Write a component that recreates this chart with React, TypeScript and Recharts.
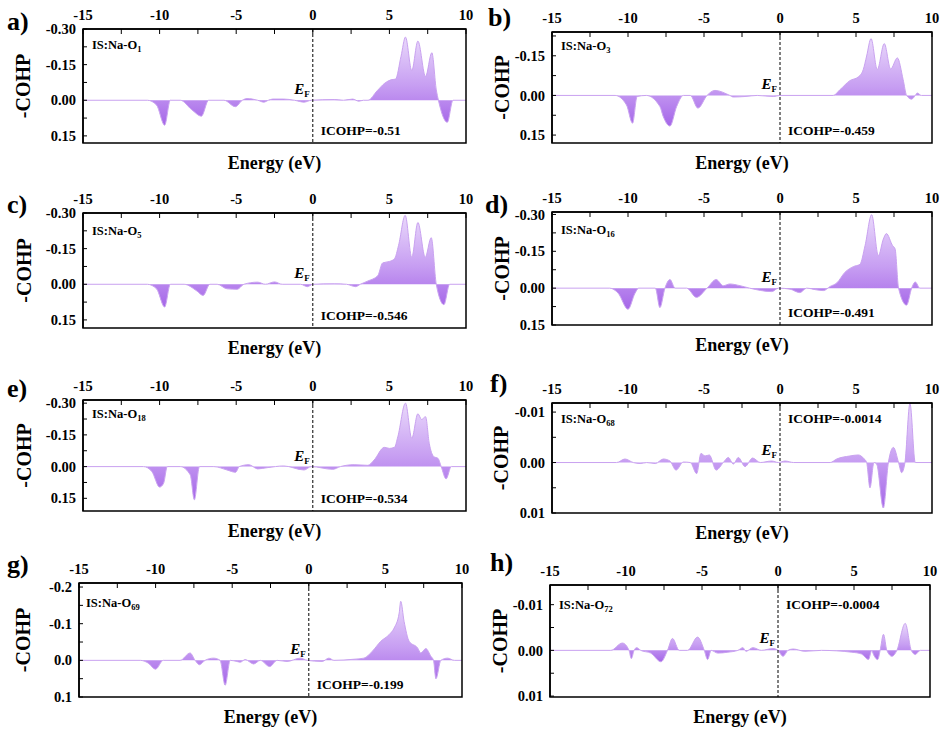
import { Area, AreaChart, ReferenceArea, ReferenceDot, ReferenceLine, XAxis, YAxis } from "recharts";

const SERIF = '"Liberation Serif", "Times New Roman", serif';

// energy grid ticks (top axis), labels only on multiples of 5
const energyTicks = [-15, -12.5, -10, -7.5, -5, -2.5, 0, 2.5, 5, 7.5, 10];

// a) IS:Na-O1
const energyA = [-15, -10.8, -10.2, -9.67, -9.3, -8.65, -7.9, -7.27, -6.8, -5.8, -5.05, -4.6, -4.3, -3.6, -3.2, -2.9, -2.6, -1.9, -1.2, -0.57, -0.1, 1.4, 2.0, 2.6, 3.0, 3.3, 3.6, 4.2, 4.7, 5.1, 5.4, 5.76, 6.05, 6.46, 6.86, 7.36, 7.77, 8.06, 8.2, 8.78, 9.15, 10];
const cohpA = [0, 0, 0.02, 0.105, 0, 0, 0.04, 0.067, 0, 0, 0.027, 0, -0.007, 0, 0.008, 0, -0.005, -0.005, 0, 0.008, 0, -0.003, 0, -0.005, 0.004, 0, 0, -0.04, -0.072, -0.086, -0.089, -0.185, -0.266, -0.125, -0.249, -0.1, -0.2, -0.044, 0, 0.093, 0, 0];

// b) IS:Na-O3
const energyB = [-15, -10.85, -10.1, -9.7, -9.4, -8.8, -7.9, -7.68, -7.24, -6.8, -6.36, -5.9, -5.4, -4.8, -4.28, -3.3, -3.07, -2.3, -1.5, -0.44, 0, 3.5, 3.95, 4.6, 5.15, 5.48, 5.7, 5.99, 6.4, 6.86, 7.28, 7.72, 8.1, 8.33, 8.66, 8.9, 9.03, 9.3, 10];
const cohpB = [0, 0, 0.036, 0.105, 0.004, 0, 0.042, 0.08, 0.116, 0.042, 0, 0, 0.048, 0, -0.019, 0, 0.006, 0.004, 0, 0.004, 0, 0, -0.022, -0.056, -0.07, -0.098, -0.149, -0.215, -0.098, -0.196, -0.1, -0.142, -0.06, 0, 0.014, 0, -0.009, 0, 0];

// c) IS:Na-O5
const energyC = [-15, -10.8, -10.2, -9.67, -9.3, -8.4, -7.55, -7.16, -6.72, -6.24, -5.6, -4.93, -4.5, -3.6, -3.1, -2.5, -2.0, -0.8, -0.35, 0, 1.4, 2.2, 2.8, 3.1, 3.6, 4.24, 4.56, 5.0, 5.33, 5.6, 6.03, 6.46, 6.86, 7.34, 7.73, 8.06, 8.56, 8.93, 10];
const cohpC = [0, 0, 0.019, 0.096, 0, 0, 0.029, 0.047, 0, 0, 0.019, 0.021, 0, -0.009, 0, -0.01, 0, 0, 0.01, 0, -0.002, 0, 0.01, 0, -0.014, -0.036, -0.09, -0.096, -0.107, -0.164, -0.29, -0.114, -0.26, -0.114, -0.196, 0, 0.086, 0, 0];

// d) IS:Na-O16
const energyD = [-15, -11.2, -10.64, -10.0, -9.54, -9.3, -8.2, -7.9, -7.57, -7.24, -6.9, -6.14, -5.5, -4.8, -4.2, -3.73, -3.3, -2.63, -2.0, -0.55, -0.1, 0.66, 1.3, 1.75, 2.4, 2.85, 3.3, 3.73, 4.28, 4.82, 5.26, 5.6, 6.03, 6.47, 6.8, 7.0, 7.4, 7.57, 7.8, 8.33, 8.66, 8.9, 9.2, 10];
const cohpD = [0, 0, 0.021, 0.086, 0.021, 0, 0, 0.079, 0, -0.035, 0, 0, 0.0375, 0, -0.035, -0.01, -0.017, -0.01, 0, 0.014, 0, 0.004, 0.018, 0, 0.007, 0.01, -0.007, -0.021, -0.065, -0.0875, -0.097, -0.174, -0.299, -0.132, -0.2, -0.222, -0.174, -0.16, 0, 0.069, 0, -0.025, 0, 0];

// e) IS:Na-O18
const energyE = [-15, -11.05, -10.5, -10.0, -9.74, -9.5, -8.65, -8.0, -7.73, -7.4, -6.46, -5.6, -5.04, -4.8, -4.17, -3.6, -2.97, -1.9, -0.57, -0.1, 1.3, 1.8, 2.7, 3.6, 4.0, 4.67, 5.0, 5.33, 5.55, 6.05, 6.46, 6.86, 7.1, 7.36, 7.6, 7.9, 8.17, 8.38, 8.7, 9.04, 10];
const cohpE = [0, 0, 0.024, 0.097, 0.079, 0, 0, 0.039, 0.157, 0, 0, 0.016, 0.027, 0, -0.009, 0.011, 0.005, -0.003, 0.016, 0, 0.013, 0, -0.009, -0.006, -0.031, -0.091, -0.086, -0.091, -0.141, -0.3, -0.134, -0.25, -0.223, -0.236, -0.11, -0.047, -0.039, 0, 0.058, 0, 0];

// f) IS:Na-O68
const energyF = [-15, -10.75, -10.2, -9.65, -9.2, -8.77, -8.2, -7.68, -7.24, -6.84, -6.36, -5.9, -5.48, -5.2, -4.93, -4.65, -4.2, -3.73, -3.4, -3.07, -2.74, -2.3, -1.8, -1.3, -0.55, -0.1, 0.33, 0.9, 3.3, 3.73, 4.6, 5.15, 5.48, 5.7, 5.92, 6.18, 6.36, 6.8, 7.13, 7.46, 7.8, 8.0, 8.22, 8.55, 8.9, 10];
const cohpF = [0, 0, -0.0007, 0, 0.0002, 0, 0.0002, -0.0007, -0.0003, 0.0015, -0.0001, 0, 0.0022, -0.0018, -0.0013, -0.0015, 0.0015, 0, -0.001, 0.0003, -0.001, 0.0008, -0.0009, 0, -0.0003, 0, -0.0003, 0, 0, -0.0007, -0.0013, -0.0015, -0.0009, 0, 0.005, 0, 0.0003, 0.009, 0, -0.003, 0, 0.002, 0, -0.0117, 0, 0];

// g) IS:Na-O69
const energyG = [-15, -11.0, -10.5, -10.0, -9.5, -8.4, -7.75, -7.42, -7.14, -6.77, -6.22, -5.79, -5.46, -5.13, -4.7, -4.48, -4.15, -3.6, -3.17, -2.55, -2.07, -1.42, -0.55, -0.1, 0.87, 1.31, 1.64, 2.95, 3.6, 4.15, 4.7, 5.24, 5.57, 5.9, 6.0, 6.22, 6.55, 7.1, 7.31, 7.64, 7.97, 8.14, 8.3, 8.62, 9.06, 9.5, 10];
const cohpG = [0, 0, 0.007, 0.024, 0, 0, -0.02, 0, 0.012, 0, -0.006, 0, 0.068, 0, 0.003, 0.005, -0.002, 0.01, 0, 0.017, 0, 0.003, -0.006, 0, 0.003, -0.006, 0, -0.003, -0.006, -0.025, -0.052, -0.07, -0.088, -0.129, -0.161, -0.106, -0.052, -0.034, -0.02, -0.032, -0.011, 0, 0.05, 0, -0.006, 0, 0];

// h) IS:Na-O72
const energyH = [-15, -11.0, -10.24, -9.8, -9.65, -9.47, -9.3, -9.03, -8.37, -7.7, -7.27, -6.94, -6.5, -5.95, -5.29, -4.85, -4.63, -4.4, -3.96, -3.3, -2.64, -2.31, -2.1, -1.65, -1.1, -0.33, 0, 0.33, 0.66, 1.0, 1.76, 2.86, 4.85, 5.5, 5.95, 6.17, 6.28, 6.56, 6.72, 6.94, 7.16, 7.5, 7.82, 8.37, 8.77, 9.03, 9.36, 10];
const cohpH = [0, 0, -0.0016, 0, 0.0018, 0, -0.0006, 0, 0.0006, 0.0025, 0, -0.0026, 0, 0, -0.0029, 0, 0.002, 0, 0.0006, 0.0004, 0, -0.0006, 0.0002, -0.0006, 0, -0.0004, 0, 0.0013, 0, -0.0003, 0.0002, 0, 0.0004, 0.0008, 0.002, 0, 0.0009, 0.002, 0, -0.0035, 0, 0.0013, 0, -0.0059, 0, 0.0009, 0, 0];

// y ticks (minor ones carry no label)
const ticks030 = [-0.3, -0.225, -0.15, -0.075, 0, 0.075, 0.15];
const major030 = [-0.3, -0.15, 0, 0.15];
const ticks015 = [-0.225, -0.15, -0.075, 0, 0.075, 0.15];
const major015 = [-0.15, 0, 0.15];
const ticks01 = [-0.01, -0.005, 0, 0.005, 0.01];
const major01 = [-0.01, 0, 0.01];
const ticks02 = [-0.2, -0.15, -0.1, -0.05, 0, 0.05, 0.1];
const major02 = [-0.2, -0.1, 0, 0.1];

const bonds = ["1", "3", "5", "16", "18", "68", "69", "72"];
const icohps = ["-0.51", "-0.459", "-0.546", "-0.491", "-0.534", "-0.0014", "-0.199", "-0.0004"];

type PanelCfg = {
  key: string;
  bond: string;
  icohp: string;
  energy: number[];
  cohp: number[];
  domain: [number, number];
  yTicks: number[];
  yMajor: number[];
  dec: number;
  icohpTop: boolean;
  cell: [number, number, number, number];
  box: [number, number, number, number];
  letterPos: [number, number];
  cohpX: number;
  isDx: number;
  isDy: number;
  efDy: number;
};

const panels: PanelCfg[] = [
  { key: "a", bond: bonds[0], icohp: icohps[0], energy: energyA, cohp: cohpA, domain: [-0.3, 0.18], yTicks: ticks030, yMajor: major030, dec: 2, icohpTop: false, cell: [0, 0, 480, 180], box: [83, 29, 466, 143], letterPos: [7, 30], cohpX: 23, isDx: 9, isDy: 20, efDy: 6 },
  { key: "b", bond: bonds[1], icohp: icohps[1], energy: energyB, cohp: cohpB, domain: [-0.24, 0.18], yTicks: ticks015, yMajor: major015, dec: 2, icohpTop: false, cell: [470, 0, 473, 180], box: [552, 32, 932, 143], letterPos: [18, 26], cohpX: 32, isDx: 9, isDy: 18, efDy: 6 },
  { key: "c", bond: bonds[2], icohp: icohps[2], energy: energyC, cohp: cohpC, domain: [-0.3, 0.184], yTicks: ticks030, yMajor: major030, dec: 2, icohpTop: false, cell: [0, 180, 480, 185], box: [83, 213, 466, 328], letterPos: [7, 33], cohpX: 24, isDx: 9, isDy: 22, efDy: 6 },
  { key: "d", bond: bonds[3], icohp: icohps[3], energy: energyD, cohp: cohpD, domain: [-0.31, 0.15], yTicks: ticks030, yMajor: major030, dec: 2, icohpTop: false, cell: [470, 180, 473, 185], box: [552, 212, 932, 325], letterPos: [15, 33], cohpX: 32, isDx: 9, isDy: 22, efDy: 6 },
  { key: "e", bond: bonds[4], icohp: icohps[4], energy: energyE, cohp: cohpE, domain: [-0.315, 0.21], yTicks: ticks030, yMajor: major030, dec: 2, icohpTop: false, cell: [0, 365, 480, 180], box: [83, 400, 466, 511], letterPos: [7, 32], cohpX: 24, isDx: 9, isDy: 18, efDy: 6 },
  { key: "f", bond: bonds[5], icohp: icohps[5], energy: energyF, cohp: cohpF, domain: [-0.0118, 0.01], yTicks: ticks01, yMajor: major01, dec: 2, icohpTop: true, cell: [470, 365, 473, 180], box: [552, 403, 932, 513], letterPos: [20, 27], cohpX: 31, isDx: 9, isDy: 20, efDy: 8 },
  { key: "g", bond: bonds[6], icohp: icohps[6], energy: energyG, cohp: cohpG, domain: [-0.211, 0.1], yTicks: ticks02, yMajor: major02, dec: 1, icohpTop: false, cell: [0, 545, 480, 188], box: [79, 583, 462, 697], letterPos: [7, 28], cohpX: 23, isDx: 7, isDy: 24, efDy: 6 },
  { key: "h", bond: bonds[7], icohp: icohps[7], energy: energyH, cohp: cohpH, domain: [-0.0143, 0.0102], yTicks: ticks01, yMajor: major01, dec: 2, icohpTop: true, cell: [470, 545, 473, 188], box: [550, 585, 930, 697], letterPos: [20, 26], cohpX: 30, isDx: 9, isDy: 24, efDy: 7 },
];

const tickFont = { fill: "#000", fontSize: 14.5, fontWeight: "bold", fontFamily: SERIF };

function CohpPanel({ p }: { p: PanelCfg }) {
  const data = p.energy.map((e, i) => ({ energy: e, cohp: p.cohp[i] }));
  const [cx, cy, cw, ch] = p.cell;
  const [bx, by, br, bb] = p.box;
  const gid = `cohp-fill-${p.key}`;

  const fmtX = (v: number) => (v % 5 === 0 ? String(v) : "");
  const fmtY = (v: number) => {
    if (!p.yMajor.some((m) => Math.abs(m - v) < 1e-9)) return "";
    return Math.abs(v) < 1e-12 ? (0).toFixed(p.dec) : v.toFixed(p.dec);
  };

  const frameLabel = ({ viewBox }: any) => {
    const { x, y, width, height } = viewBox;
    return (
      <g fontFamily={SERIF} fontWeight="bold" fill="#000">
        <text x={p.letterPos[0]} y={p.letterPos[1]} fontSize={26}>
          {p.key})
        </text>
        <text x={x + p.isDx} y={y + p.isDy} fontSize={12.5}>
          IS:Na-O
          <tspan fontSize={8.5} dy={3}>
            {p.bond}
          </tspan>
        </text>
        <text x={x + width / 2} y={y + height + 26} fontSize={18} textAnchor="middle">
          Energy (eV)
        </text>
        <text
          transform={`translate(${p.cohpX}, ${y + height / 2}) rotate(-90)`}
          fontSize={20}
          textAnchor="middle"
          dy="0.35em"
        >
          -COHP
        </text>
      </g>
    );
  };

  const icohpLabel = ({ viewBox }: any) => {
    const { x, y, height } = viewBox;
    const ty = p.icohpTop ? y + p.isDy : y + height - 8;
    return (
      <text x={x + 8} y={ty} fontSize={13.5} fontWeight="bold" fontFamily={SERIF} fill="#000">
        ICOHP={p.icohp}
      </text>
    );
  };

  const efLabel = ({ viewBox }: any) => (
    <text
      x={viewBox.x - 3}
      y={viewBox.y - p.efDy}
      textAnchor="end"
      fontSize={15}
      fontWeight="bold"
      fontFamily={SERIF}
      fill="#000"
    >
      <tspan fontStyle="italic">E</tspan>
      <tspan fontSize={9} dy={3}>
        F
      </tspan>
    </text>
  );

  return (
    <div style={{ position: "absolute", left: cx, top: cy }}>
      <AreaChart
        width={cw}
        height={ch}
        data={data}
        margin={{ top: 0, left: 0, right: cx + cw - br, bottom: cy + ch - bb }}
      >
        <defs>
          <linearGradient id={gid} x1="0" y1="0" x2="0" y2="1">
            <stop offset="0%" stopColor="#e9d8fb" />
            <stop offset="55%" stopColor="#c79ef2" />
            <stop offset="100%" stopColor="#a566e8" />
          </linearGradient>
        </defs>
        <XAxis
          dataKey="energy"
          type="number"
          orientation="top"
          domain={[-15, 10]}
          ticks={energyTicks}
          interval={0}
          allowDataOverflow
          height={by - cy}
          tickSize={-5}
          tickMargin={14}
          tickFormatter={fmtX}
          tick={tickFont}
          tickLine={{ stroke: "#000" }}
          axisLine={{ stroke: "#000", strokeWidth: 1.5 }}
        />
        <YAxis
          type="number"
          reversed
          domain={p.domain}
          ticks={p.yTicks}
          interval={0}
          allowDataOverflow
          width={bx - cx}
          tickSize={-4}
          tickMargin={11}
          tickFormatter={fmtY}
          tick={tickFont}
          tickLine={{ stroke: "#000" }}
          axisLine={{ stroke: "#000", strokeWidth: 1.5 }}
        />
        <Area
          type="monotone"
          dataKey="cohp"
          baseValue={0}
          stroke="#c9a2f0"
          strokeWidth={1}
          fill={`url(#${gid})`}
          fillOpacity={1}
          dot={false}
          activeDot={false}
          isAnimationActive={false}
        />
        <ReferenceArea
          x1={-15}
          x2={10}
          fill="none"
          stroke="#000"
          strokeWidth={1.5}
          label={{ content: frameLabel }}
        />
        <ReferenceLine x={0} stroke="#000" strokeWidth={1} strokeDasharray="3 2" label={{ content: icohpLabel }} />
        <ReferenceDot x={0} y={0} r={0} fill="none" stroke="none" label={{ content: efLabel }} />
      </AreaChart>
    </div>
  );
}

export default function App() {
  return (
    <div style={{ position: "absolute", left: 0, top: 0, width: 943, height: 733, background: "#fff" }}>
      {panels.map((p) => (
        <CohpPanel key={p.key} p={p} />
      ))}
    </div>
  );
}
